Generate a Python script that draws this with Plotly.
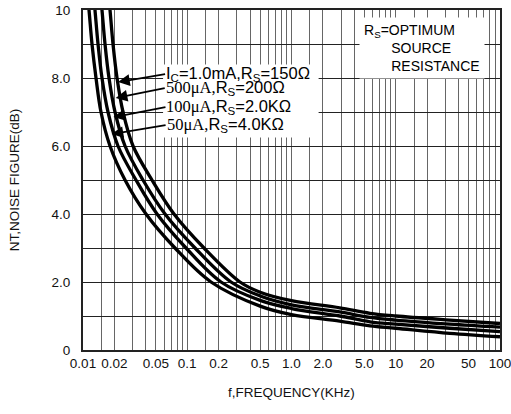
import math
import plotly.graph_objects as go

# ---------------- data ----------------
x_tick_values = [0.01, 0.02, 0.05, 0.1, 0.2, 0.5, 1, 2, 5, 10, 20, 50, 100]
x_tick_labels = ["0.01", "0.02", "0.05", "0.1", "0.2", "0.5", "1.0", "2.0", "5.0", "10", "20", "50", "100"]
grid_mantissas = [1, 1.5, 2, 3, 4, 5, 6, 7, 8, 9]
grid_decades = [0.01, 0.1, 1, 10]

y_tick_values = [0, 1, 2, 3, 4, 5, 6, 7, 8, 9, 10]
y_tick_labels = ["0", "", "2.0", "", "4.0", "", "6.0", "", "8.0", "", "10"]

# IC = 1.0 mA, RS = 150 ohm
freq_1mA = [0.01737, 0.01816, 0.01940, 0.02120, 0.02420, 0.03019, 0.0459, 0.0746, 0.1448, 0.3206, 0.5, 1.0, 2.9, 5.66, 10, 33, 100]
nf_1mA = [10.6, 10, 9, 8, 7, 6, 5, 4, 3, 2, 1.70, 1.45, 1.24, 1.08, 1.0, 0.88, 0.78]
# IC = 500 uA, RS = 200 ohm
freq_500uA = [0.01456, 0.01521, 0.01626, 0.01776, 0.02028, 0.02530, 0.0376, 0.0612, 0.1187, 0.2628, 0.5, 1.0, 2.9, 5.66, 10, 33, 100]
nf_500uA = [10.6, 10, 9, 8, 7, 6, 5, 4, 3, 2, 1.59, 1.33, 1.12, 0.96, 0.88, 0.76, 0.67]
# IC = 100 uA, RS = 2.0 kohm
freq_100uA = [0.0125, 0.01303, 0.01393, 0.01521, 0.01737, 0.02166, 0.03224, 0.0513, 0.0973, 0.2107, 0.5, 1.0, 2.9, 5.66, 10, 33, 100]
nf_100uA = [10.6, 10, 9, 8, 7, 6, 5, 4, 3, 2, 1.46, 1.22, 1.0, 0.83, 0.76, 0.64, 0.54]
# IC = 50 uA, RS = 4.0 kohm
freq_50uA = [0.0109, 0.01142, 0.0122, 0.01333, 0.01488, 0.01816, 0.0253, 0.0402, 0.0763, 0.169, 0.5, 1.0, 2.9, 5.66, 10, 33, 100]
nf_50uA = [10.6, 10, 9, 8, 7, 6, 5, 4, 3, 2, 1.29, 1.04, 0.85, 0.71, 0.64, 0.49, 0.39]

series = [
    ("IC=1.0mA,RS=150Ω", freq_1mA, nf_1mA),
    ("500μA,RS=200Ω", freq_500uA, nf_500uA),
    ("100μA,RS=2.0KΩ", freq_100uA, nf_100uA),
    ("50μA,RS=4.0KΩ", freq_50uA, nf_50uA),
]

label_texts = [
    "I<sub>C</sub>=1.0mA,R<sub>S</sub>=150Ω",
    "<span style=\"font-family:'Liberation Serif'\">500μA,</span>R<sub>S</sub>=200Ω",
    "<span style=\"font-family:'Liberation Serif'\">100μA,</span>R<sub>S</sub>=2.0KΩ",
    "<span style=\"font-family:'Liberation Serif'\">50μA,</span>R<sub>S</sub>=4.0KΩ",
]

# ---------------- figure ----------------
fig = go.Figure()
for name, fx, fy in series:
    fig.add_trace(go.Scatter(
        x=fx, y=fy, mode="lines", name=name,
        line=dict(color="black", width=3.3, shape="spline", smoothing=1.0),
        showlegend=False, hoverinfo="skip",
    ))

label_map = {round(v, 6): t for v, t in zip(x_tick_values, x_tick_labels)}
grid_vals = [round(m * d, 6) for d in grid_decades for m in grid_mantissas] + [100]
grid_text = [label_map.get(v, "") for v in grid_vals]

FONT = "Liberation Sans, Arial, sans-serif"

fig.update_layout(
    width=511, height=414,
    margin=dict(l=83, r=11, t=10, b=64),
    paper_bgcolor="white", plot_bgcolor="white",
    font=dict(family=FONT, size=13, color="#111"),
    xaxis=dict(
        type="log", range=[-2, 2], automargin=False,
        tickmode="array", tickvals=grid_vals, ticktext=grid_text,
        showgrid=True, gridcolor="#666", gridwidth=1,
        showline=True, linecolor="#222", linewidth=2, mirror=True,
        ticks="", ticklabelstandoff=0, zeroline=False,
        ticklabeloverflow="allow",
        tickfont=dict(size=13.5),
        title=dict(text="f,FREQUENCY(KHz)", font=dict(size=13.5), standoff=17),
    ),
    yaxis=dict(
        range=[0, 10], automargin=False,
        tickmode="array", tickvals=y_tick_values, ticktext=y_tick_labels,
        showgrid=True, gridcolor="#222", gridwidth=1,
        showline=True, linecolor="#222", linewidth=2, mirror=True,
        ticks="", ticklabelstandoff=8, zeroline=False,
        tickfont=dict(size=13.5),
        title=dict(text="NT,NOISE FIGURE(dB)", font=dict(size=13.5), standoff=29),
    ),
)

# white panel behind the curve labels (hides the grid there)
fig.add_shape(
    type="rect", xref="paper", yref="paper",
    x0=0.192, x1=0.565, y0=0.625, y1=0.84,
    fillcolor="white", line=dict(width=0), layer="above",
)

# arrow heads (data coords) and tail offsets (pixels)
arrow_heads = [(0.0217, 7.88), (0.0206, 7.41), (0.0196, 6.85), (0.0188, 6.35)]
arrow_tails = [(47, -8), (49, -10), (52, -10), (54, -9)]
for text, (hx, hy), (ax, ay) in zip(label_texts, arrow_heads, arrow_tails):
    fig.add_annotation(
        x=math.log10(hx), y=hy, xref="x", yref="y",
        ax=ax, ay=ay, axref="pixel", ayref="pixel",
        text=text, showarrow=True, xanchor="left", yanchor="middle",
        arrowhead=2, arrowsize=1.3, arrowwidth=1.8, arrowcolor="black",
        borderpad=0,
        font=dict(family=FONT, size=16.5, color="black"),
    )

nb = "\u00a0"
fig.add_annotation(
    x=0.662, y=0.979, xref="paper", yref="paper",
    xanchor="left", yanchor="top", showarrow=False, align="left",
    text="R<sub>S</sub>=OPTIMUM<br>" + nb * 7 + "SOURCE<br>" + nb * 7 + "RESISTANCE",
    bgcolor="white", borderpad=4,
    font=dict(family=FONT, size=14, color="black"),
)

fig.write_html(
    "out.html",
    config={"displayModeBar": False},
    post_script="document.body.style.margin='0';",
)
